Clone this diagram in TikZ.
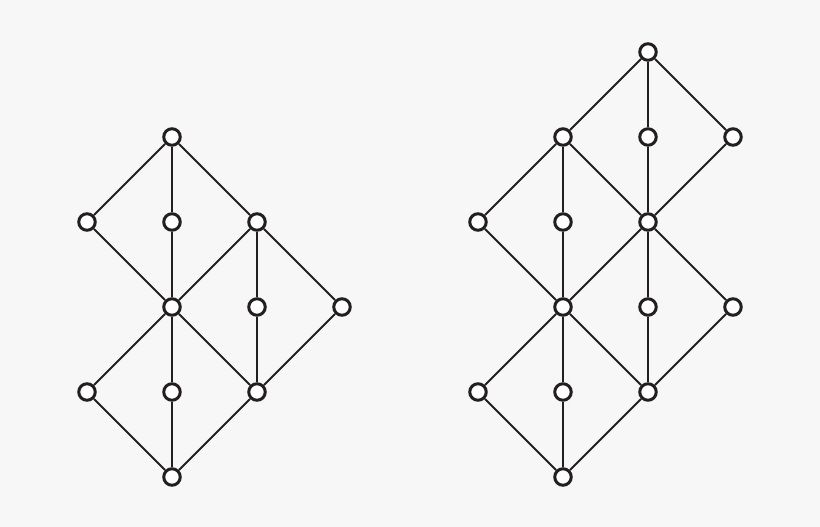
\documentclass[tikz,border=0pt]{standalone}
\newlength{\du}
\setlength{\du}{0.75pt}
\definecolor{dialinecolor}{rgb}{0.137255, 0.121569, 0.125490}
\definecolor{bgcolor}{rgb}{0.968627, 0.968627, 0.968627}
\tikzset{
  vertex/.style={circle, draw=dialinecolor, fill=white, line width=3\du, minimum size=16.5\du, inner sep=0pt},
  edge/.style={draw=dialinecolor, line width=1.8\du}
}

\begin{document}
\begin{tikzpicture}
\pgftransformxscale{1.000000}
\pgftransformyscale{-1.000000}
\fill[bgcolor] (0\du,0\du) rectangle (820\du,527\du);
% left lattice
\node[vertex] (l1) at (172.000000\du,137.000000\du){};
\node[vertex] (l2) at (87.000000\du,222.000000\du){};
\node[vertex] (l3) at (172.000000\du,222.000000\du){};
\node[vertex] (l4) at (257.000000\du,222.000000\du){};
\node[vertex] (l5) at (172.000000\du,307.000000\du){};
\node[vertex] (l6) at (257.000000\du,307.000000\du){};
\node[vertex] (l7) at (342.000000\du,307.000000\du){};
\node[vertex] (l8) at (87.000000\du,392.000000\du){};
\node[vertex] (l9) at (172.000000\du,392.000000\du){};
\node[vertex] (l10) at (257.000000\du,392.000000\du){};
\node[vertex] (l11) at (172.000000\du,477.000000\du){};
\draw[edge] (l1)--(l2);
\draw[edge] (l1)--(l3);
\draw[edge] (l1)--(l4);
\draw[edge] (l2)--(l5);
\draw[edge] (l3)--(l5);
\draw[edge] (l4)--(l5);
\draw[edge] (l4)--(l6);
\draw[edge] (l4)--(l7);
\draw[edge] (l5)--(l8);
\draw[edge] (l5)--(l9);
\draw[edge] (l5)--(l10);
\draw[edge] (l6)--(l10);
\draw[edge] (l7)--(l10);
\draw[edge] (l8)--(l11);
\draw[edge] (l9)--(l11);
\draw[edge] (l10)--(l11);
% right lattice
\node[vertex] (r1) at (648.000000\du,52.000000\du){};
\node[vertex] (r2) at (563.000000\du,137.000000\du){};
\node[vertex] (r3) at (648.000000\du,137.000000\du){};
\node[vertex] (r4) at (733.000000\du,137.000000\du){};
\node[vertex] (r5) at (478.000000\du,222.000000\du){};
\node[vertex] (r6) at (563.000000\du,222.000000\du){};
\node[vertex] (r7) at (648.000000\du,222.000000\du){};
\node[vertex] (r8) at (563.000000\du,307.000000\du){};
\node[vertex] (r9) at (648.000000\du,307.000000\du){};
\node[vertex] (r10) at (733.000000\du,307.000000\du){};
\node[vertex] (r11) at (478.000000\du,392.000000\du){};
\node[vertex] (r12) at (563.000000\du,392.000000\du){};
\node[vertex] (r13) at (648.000000\du,392.000000\du){};
\node[vertex] (r14) at (563.000000\du,477.000000\du){};
\draw[edge] (r1)--(r2);
\draw[edge] (r1)--(r3);
\draw[edge] (r1)--(r4);
\draw[edge] (r2)--(r5);
\draw[edge] (r2)--(r6);
\draw[edge] (r2)--(r7);
\draw[edge] (r3)--(r7);
\draw[edge] (r4)--(r7);
\draw[edge] (r5)--(r8);
\draw[edge] (r6)--(r8);
\draw[edge] (r7)--(r8);
\draw[edge] (r7)--(r9);
\draw[edge] (r7)--(r10);
\draw[edge] (r8)--(r11);
\draw[edge] (r8)--(r12);
\draw[edge] (r8)--(r13);
\draw[edge] (r9)--(r13);
\draw[edge] (r10)--(r13);
\draw[edge] (r11)--(r14);
\draw[edge] (r12)--(r14);
\draw[edge] (r13)--(r14);
\end{tikzpicture}
\end{document}
